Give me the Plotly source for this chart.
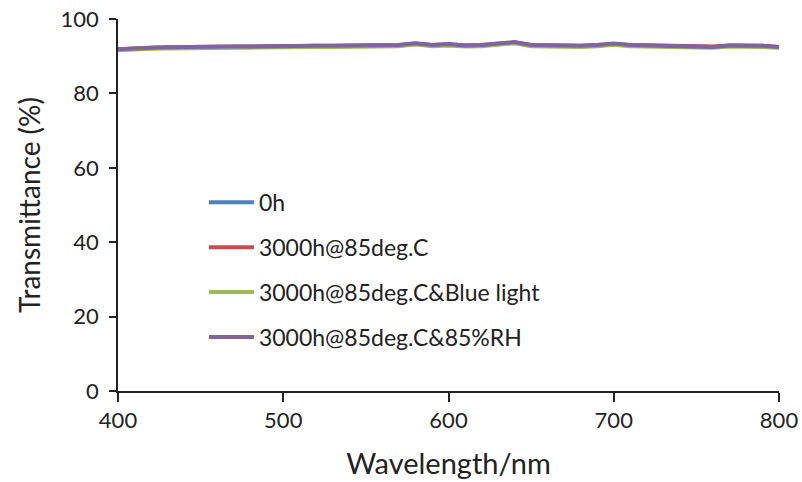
import plotly.graph_objects as go

wavelength = [400, 410, 420, 430, 440, 450, 460, 470, 480, 490, 500, 510, 520, 530, 540, 550, 560,
              570, 580, 590, 600, 610, 620, 630, 640, 650, 660, 670, 680, 690, 700, 710, 720, 730,
              740, 750, 760, 770, 780, 790, 800]

t_0h = [91.8, 92.1, 92.2, 92.3, 92.4, 92.4, 92.5, 92.5, 92.5, 92.6, 92.6, 92.7, 92.7, 92.7, 92.8, 92.7,
        92.8, 92.9, 93.3, 92.9, 93.1, 92.8, 92.9, 93.3, 93.6, 92.9, 92.8, 92.9, 92.7, 92.9, 93.2, 92.9,
        92.8, 92.7, 92.6, 92.6, 92.5, 92.8, 92.8, 92.7, 92.4]
t_85c = [91.9, 92.2, 92.3, 92.4, 92.5, 92.5, 92.6, 92.6, 92.6, 92.7, 92.7, 92.8, 92.8, 92.8, 92.9, 92.8,
         92.9, 93.0, 93.4, 93.0, 93.2, 92.9, 93.0, 93.4, 93.7, 93.0, 92.9, 93.0, 92.8, 93.0, 93.3, 93.0,
         92.9, 92.8, 92.7, 92.7, 92.6, 92.9, 92.9, 92.8, 92.5]
t_85c_blue = [91.6, 91.9, 92.0, 92.1, 92.2, 92.2, 92.3, 92.3, 92.3, 92.4, 92.4, 92.5, 92.5, 92.5, 92.6, 92.5,
              92.6, 92.7, 93.2, 92.7, 92.9, 92.6, 92.7, 93.2, 93.5, 92.7, 92.6, 92.7, 92.5, 92.7, 93.1, 92.7,
              92.6, 92.5, 92.4, 92.4, 92.3, 92.6, 92.6, 92.5, 92.3]
t_85c_rh = [91.9, 92.2, 92.3, 92.4, 92.5, 92.5, 92.6, 92.6, 92.6, 92.7, 92.7, 92.8, 92.8, 92.8, 92.9, 92.8,
            92.9, 93.0, 93.5, 93.0, 93.3, 92.9, 93.0, 93.5, 93.8, 93.0, 92.9, 93.0, 92.8, 93.0, 93.4, 93.0,
            92.9, 92.8, 92.6, 92.7, 92.5, 92.9, 92.9, 92.8, 92.5]

series = [
    ("0h", t_0h, "#4F81BD"),
    ("3000h@85deg.C", t_85c, "#C0504D"),
    ("3000h@85deg.C&Blue light", t_85c_blue, "#9BBB59"),
    ("3000h@85deg.C&85%RH", t_85c_rh, "#8064A2"),
]

x_ticks = [400, 500, 600, 700, 800]
y_ticks = [0, 20, 40, 60, 80, 100]

FONT = "Lato, 'Open Sans', sans-serif"

fig = go.Figure()
for i, (name, vals, color) in enumerate(series):
    fig.add_trace(go.Scatter(x=wavelength, y=vals, mode="lines", name=name,
                             legendgroup=f"g{i}",
                             line=dict(color=color, width=4)))

fig.update_layout(
    width=802, height=482,
    margin=dict(l=118, r=23, t=19, b=91),
    paper_bgcolor="white", plot_bgcolor="white",
    font=dict(family=FONT, color="#222222"),
    showlegend=True,
    legend=dict(x=0.13, y=0.565, xanchor="left", yanchor="top",
                bgcolor="rgba(0,0,0,0)", font=dict(size=23, family=FONT, color="#222222"),
                tracegroupgap=12, itemwidth=45),
    xaxis=dict(range=[400, 800], tickvals=x_ticks, showgrid=False, zeroline=False,
               showline=True, linecolor="#222222", linewidth=1.5, automargin=False,
               ticks="outside", ticklen=9, tickwidth=1.5, tickcolor="#222222",
               tickfont=dict(size=22, family=FONT),
               title=dict(text="Wavelength/nm", font=dict(size=29, family=FONT), standoff=22)),
    yaxis=dict(range=[0, 100], tickvals=y_ticks, showgrid=False, zeroline=False,
               showline=True, linecolor="#222222", linewidth=1.5, automargin=False,
               ticks="outside", ticklen=7, tickwidth=1.5, tickcolor="#222222",
               tickfont=dict(size=22, family=FONT), ticklabelstandoff=6,
               title=dict(text="Transmittance (%)", font=dict(size=28, family=FONT), standoff=12)),
)

fig.write_html("out.html")
